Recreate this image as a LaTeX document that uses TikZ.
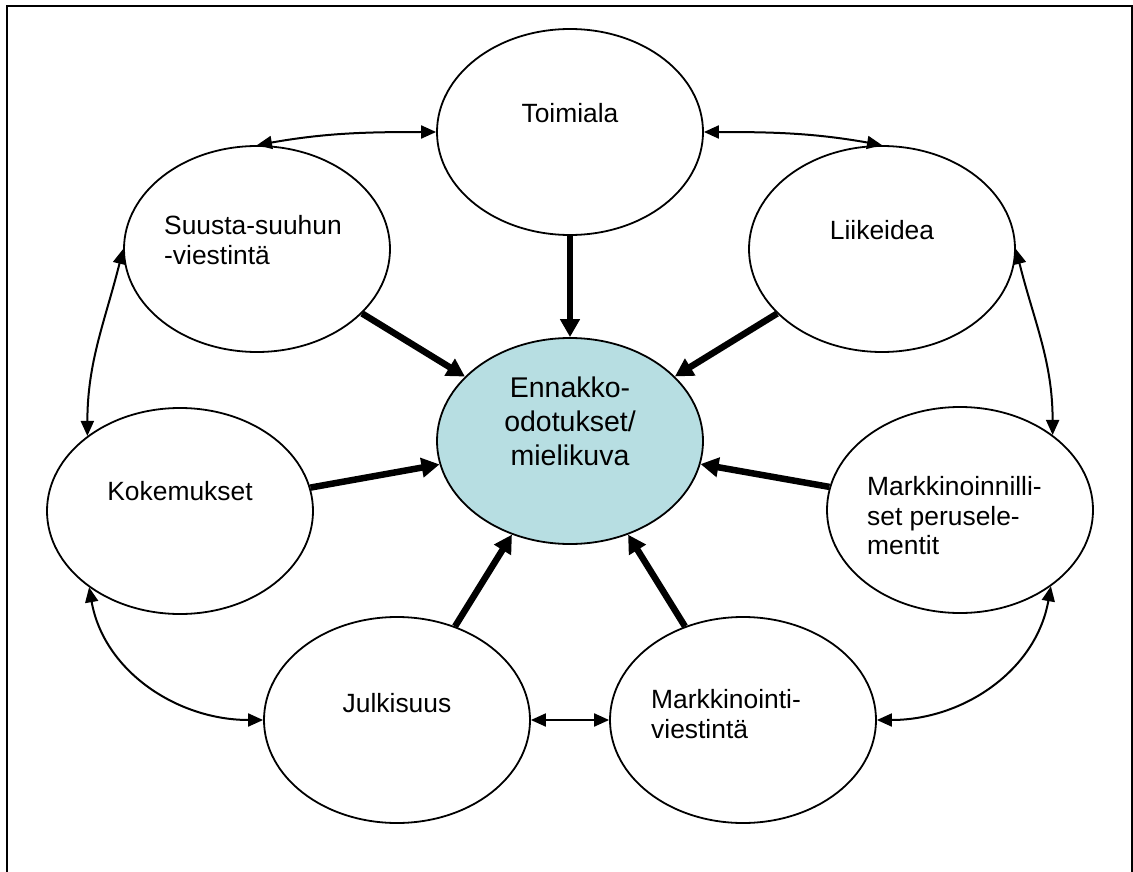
\documentclass[tikz,border=0pt]{standalone}
\usepackage{fontspec}
\setmainfont{Liberation Sans}
\usepackage{tikz}
\usetikzlibrary{arrows.meta,shapes}
\definecolor{mindblue}{RGB}{183,222,226}

\begin{document}
\begin{tikzpicture}[x=1pt, y=1pt]
\tikzstyle{oval} = [ellipse, draw=black, line width=1.8pt, fill=white,
  minimum width=266pt, minimum height=206pt, inner sep=0pt]
\tikzstyle{lbl} = [inner sep=0pt, font=\fontsize{26.4}{29.5}\selectfont]
\tikzstyle{feed} = [-{Triangle[length=18pt,width=19pt]}, line width=6.5pt]
\tikzstyle{link} = [{Triangle[length=15pt,width=13pt]}-{Triangle[length=15pt,width=13pt]},
  line width=2pt]

\useasboundingbox (0,0) rectangle (1133,-872);
\draw[line width=2pt] (7,-872) -- (7,-6) -- (1132,-6) -- (1132,-872);

\node[oval] (toimiala) at (570,-132) {};
\node[oval] (suusta) at (257,-249) {};
\node[oval] (liikeidea) at (882,-249) {};
\node[oval] (kokemukset) at (180,-511) {};
\node[oval] (peruselem) at (960,-510) {};
\node[oval] (julkisuus) at (397,-720) {};
\node[oval] (viestinta) at (743,-720) {};
\node[oval, fill=mindblue] (mielikuva) at (570,-441) {};

\node[lbl, anchor=north] (toimialaT) at ([yshift=28.5pt]toimiala.center) {Toimiala};
\node[lbl, anchor=north west, align=left] (suustaT)
  at ([xshift=-93pt, yshift=33.5pt]suusta.center) {Suusta-suuhun\\-viestintä};
\node[lbl, anchor=north] (liikeideaT) at ([yshift=28.5pt]liikeidea.center) {Liikeidea};
\node[lbl, anchor=north] (kokemuksetT) at ([yshift=29.5pt]kokemukset.center) {Kokemukset};
\node[lbl, anchor=north west, align=left] (peruselemT)
  at ([xshift=-93pt, yshift=33.5pt]peruselem.center)
  {Markkinoinnilli-\\set perusele-\\mentit};
\node[lbl, anchor=north] (julkisuusT) at ([yshift=26.5pt]julkisuus.center) {Julkisuus};
\node[lbl, anchor=north west, align=left] (viestintaT)
  at ([xshift=-92pt, yshift=30.5pt]viestinta.center) {Markkinointi-\\viestintä};
\node[lbl, anchor=north, align=center, font=\fontsize{28.5}{34}\selectfont] (mielikuvaT)
  at ([yshift=64pt]mielikuva.center) {Ennakko-\\odotukset/\\mielikuva};

\draw[feed] (toimiala) -- (mielikuva);
\draw[feed] (suusta) -- (mielikuva);
\draw[feed] (liikeidea) -- (mielikuva);
\draw[feed] (kokemukset) -- (mielikuva);
\draw[feed] (peruselem) -- (mielikuva);
\draw[feed] (julkisuus) -- (mielikuva);
\draw[feed] (viestinta) -- (mielikuva);

\draw[link] (suusta.north) to[out=10, in=180] (toimiala.west);
\draw[link] (toimiala.east) to[out=0, in=170] (liikeidea.north);
\draw[link] (suusta.west) to[out=256, in=90] (kokemukset.141);
\draw[link] (liikeidea.east) to[out=-76, in=90] (peruselem.39);
\draw[link] (kokemukset.220) to[out=-80, in=180] (julkisuus.west);
\draw[link] (julkisuus.east) -- (viestinta.west);
\draw[link] (peruselem.320) to[out=-100, in=0] (viestinta.east);
\end{tikzpicture}
\end{document}
